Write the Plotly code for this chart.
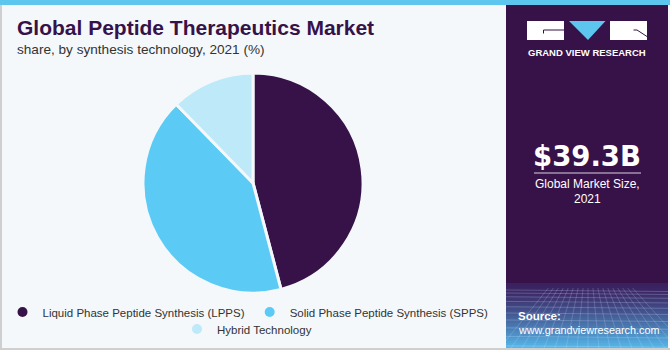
import plotly.graph_objects as go

# Market share by synthesis technology, 2021 (%)
segments = ["Liquid Phase Peptide Synthesis (LPPS)",
            "Solid Phase Peptide Synthesis (SPPS)",
            "Hybrid Technology"]
shares = [45.9, 41.8, 12.3]
colors = ["#371249", "#5BCBF5", "#BEE9F9"]

market_size = "$39.3B"
market_caption = ["Global Market Size,", "2021"]

W, H = 670, 350
PURPLE = "#371249"
BG = "#F4F8FB"


def px(x):
    return x / W


def py(y):
    return 1 - y / H


fig = go.Figure()

fig.add_trace(go.Pie(
    labels=segments,
    values=shares,
    sort=False,
    direction="clockwise",
    rotation=0,
    marker=dict(colors=colors, line=dict(color=BG, width=3)),
    textinfo="none",
    hoverinfo="label+percent",
    showlegend=False,
    domain=dict(x=[px(143), px(363)], y=[py(293), py(73)]),
))

# circular legend markers, split over two rows
for i, (name, col) in enumerate(zip(segments, colors)):
    fig.add_trace(go.Scatter(
        x=[None], y=[None], mode="markers", name=name,
        marker=dict(color=col, size=10, symbol="circle"),
        legend="legend" if i < 2 else "legend2",
        hoverinfo="skip",
    ))

shapes = []
# page background and top accent bar
shapes.append(dict(type="rect", xref="paper", yref="paper", x0=0, x1=1, y0=0, y1=1,
                   fillcolor=BG, line=dict(width=0), layer="below"))
shapes.append(dict(type="rect", xref="paper", yref="paper", x0=0, x1=px(2), y0=0, y1=1,
                   fillcolor="#CFCFCF", line=dict(width=0), layer="below"))

# right-hand info panel
shapes.append(dict(type="rect", xref="paper", yref="paper", x0=px(506), x1=px(668),
                   y0=py(348), y1=py(5), fillcolor=PURPLE, line=dict(width=0), layer="below"))

# gradient at the foot of the panel
c0 = (0x3B, 0x20, 0x5E)
c1 = (0x55, 0xB6, 0xE8)
top, bot = 283, 348
n = 26
for k in range(n):
    t = k / (n - 1)
    t2 = t ** 1.3
    r = int(c0[0] + (c1[0] - c0[0]) * t2)
    g = int(c0[1] + (c1[1] - c0[1]) * t2)
    b = int(c0[2] + (c1[2] - c0[2]) * t2)
    ya = top + (bot - top) * k / n
    yb = top + (bot - top) * (k + 1) / n + 0.5
    shapes.append(dict(type="rect", xref="paper", yref="paper", x0=px(506), x1=px(668),
                       y0=py(min(yb, bot)), y1=py(ya),
                       fillcolor=f"rgb({r},{g},{b})", line=dict(width=0), layer="below"))

# faint perspective grid over the gradient
gy = 290
step = 3
while gy < bot:
    shapes.append(dict(type="line", xref="paper", yref="paper", x0=px(506), x1=px(668),
                       y0=py(gy), y1=py(gy + 1.5),
                       line=dict(color="rgba(200,225,255,0.25)", width=1), layer="below"))
    gy += step
    step += 0.8
for vx in range(500, 690, 11):
    shapes.append(dict(type="line", xref="paper", yref="paper",
                       x0=px(588 + (vx - 588) * 0.45), x1=px(vx),
                       y0=py(288), y1=py(348),
                       line=dict(color="rgba(200,225,255,0.22)", width=1), layer="below"))

# repaint the panel edges so the grid stays inside it
shapes.append(dict(type="rect", xref="paper", yref="paper", x0=px(668), x1=1, y0=0, y1=1,
                   fillcolor=BG, line=dict(width=0), layer="below"))
shapes.append(dict(type="rect", xref="paper", yref="paper", x0=px(490), x1=px(506),
                   y0=py(348), y1=py(280), fillcolor=BG, line=dict(width=0), layer="below"))
shapes.append(dict(type="rect", xref="paper", yref="paper", x0=0, x1=1, y0=0, y1=py(348),
                   fillcolor="#CFCFCF", line=dict(width=0), layer="below"))
shapes.append(dict(type="rect", xref="paper", yref="paper", x0=0, x1=1, y0=py(5), y1=1,
                   fillcolor="#5CC6EF", line=dict(width=0), layer="below"))

# brand mark: two white blocks around a blue triangle
shapes.append(dict(type="rect", xref="paper", yref="paper", x0=px(527), x1=px(564),
                   y0=py(40), y1=py(21), fillcolor="white", line=dict(width=0)))
shapes.append(dict(type="path", xref="paper", yref="paper",
                   path=f"M {px(569)},{py(21)} L {px(605.5)},{py(21)} L {px(588)},{py(40)} Z",
                   fillcolor="#5CC6EF", line=dict(width=0)))
shapes.append(dict(type="rect", xref="paper", yref="paper", x0=px(610), x1=px(647),
                   y0=py(40), y1=py(21), fillcolor="white", line=dict(width=0)))
shapes.append(dict(type="line", xref="paper", yref="paper", x0=px(543.5), x1=px(564),
                   y0=py(30), y1=py(30), line=dict(color=PURPLE, width=1)))
shapes.append(dict(type="line", xref="paper", yref="paper", x0=px(543.5), x1=px(543.5),
                   y0=py(30), y1=py(33.5), line=dict(color=PURPLE, width=1)))
shapes.append(dict(type="line", xref="paper", yref="paper", x0=px(633.5), x1=px(637),
                   y0=py(30), y1=py(30), line=dict(color=PURPLE, width=1)))
shapes.append(dict(type="line", xref="paper", yref="paper", x0=px(637), x1=px(647),
                   y0=py(30), y1=py(36.5), line=dict(color=PURPLE, width=1)))

# underline below the headline figure
shapes.append(dict(type="line", xref="paper", yref="paper", x0=px(534), x1=px(641),
                   y0=py(173), y1=py(173), line=dict(color="#D8D0E0", width=1)))

SANS = "Liberation Sans, Arial, sans-serif"
WIDE_BOLD = "DejaVu Sans, sans-serif"


def note(text, x, y, size, color, family=SANS, weight="normal", xanchor="left"):
    return dict(text=text, x=px(x), y=py(y), xref="paper", yref="paper",
                xanchor=xanchor, yanchor="middle", showarrow=False,
                font=dict(family=family, size=size, color=color, weight=weight))


annotations = [
    note("Global Peptide Therapeutics Market", 15, 28, 21, PURPLE, weight="bold"),
    note("share, by synthesis technology, 2021 (%)", 15, 49, 13.6, "#333333"),
    note("GRAND VIEW RESEARCH", 587, 52, 9.5, "white", weight="bold", xanchor="center"),
    note(market_size, 587, 156, 27.5, "white", family=WIDE_BOLD, weight="bold", xanchor="center"),
    note(market_caption[0], 587, 184, 12, "white", xanchor="center"),
    note(market_caption[1], 587, 199, 12, "white", xanchor="center"),
    note("Source:", 516, 316, 11.5, "white", weight="bold"),
    note("www.grandviewresearch.com", 516, 330, 10.8, "white"),
]

legend_font = dict(family=SANS, size=11.5, color="#333333")

fig.update_layout(
    width=W, height=H,
    margin=dict(l=0, r=0, t=0, b=0),
    paper_bgcolor=BG,
    plot_bgcolor="rgba(0,0,0,0)",
    xaxis=dict(visible=False),
    yaxis=dict(visible=False),
    shapes=shapes,
    annotations=annotations,
    legend=dict(orientation="h", x=px(248), xanchor="center", y=py(312), yanchor="middle",
                bgcolor="rgba(0,0,0,0)", font=legend_font, itemwidth=30),
    legend2=dict(orientation="h", x=px(247), xanchor="center", y=py(329), yanchor="middle",
                 bgcolor="rgba(0,0,0,0)", font=legend_font, itemwidth=30),
)

fig.write_html("out.html")
